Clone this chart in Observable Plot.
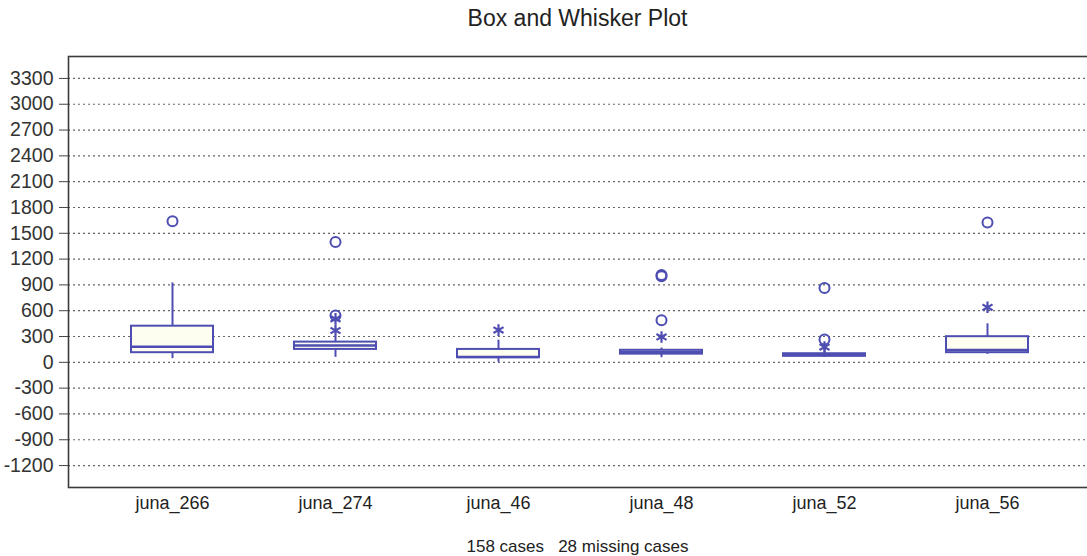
<!DOCTYPE html>
<html>
<head>
<meta charset="utf-8">
<script src="https://cdn.jsdelivr.net/npm/d3@7"></script>
<script src="https://cdn.jsdelivr.net/npm/@observablehq/plot@0.6"></script>
<style>
  html, body { margin: 0; padding: 0; background: #fff; }
  #title { height: 40px; padding-left: 68px; box-sizing: border-box; text-align: center;
    font-family: "Liberation Sans", Arial, sans-serif; font-size: 23px; color: #222; line-height: 36px; }
  #caption { height: 36px; padding-left: 68px; box-sizing: border-box; text-align: center;
    font-family: "Liberation Sans", Arial, sans-serif; font-size: 17px; color: #222; line-height: 54px; }
  svg { display: block; }
</style>
</head>
<body>
<div id="title">Box and Whisker Plot</div>
<div id="chart"></div>
<div id="caption">158 cases&nbsp;&nbsp; 28 missing cases</div>
<script>
const categories = ["juna_266", "juna_274", "juna_46", "juna_48", "juna_52", "juna_56"];
const whiskerLow  = [43, 58, 0, 54, 58, 93];
const q1          = [112, 150, 54, 95, 70, 112];
const median      = [182, 197, 62, 120, 85, 143];
const q3          = [420, 235, 150, 140, 100, 298];
const whiskerHigh = [923, 300, 258, 165, 150, 448];

const outlierCategory = ["juna_266", "juna_274", "juna_274", "juna_274", "juna_274", "juna_46",
  "juna_48", "juna_48", "juna_48", "juna_48", "juna_52", "juna_52", "juna_52", "juna_56", "juna_56"];
const outlierValue = [1640, 370, 505, 545, 1400, 375,
  295, 490, 1000, 1015, 178, 265, 865, 640, 1625];
const outlierKind = ["circle", "star", "star", "circle", "circle", "star",
  "star", "circle", "circle", "circle", "star", "circle", "circle", "star", "circle"];

const yTicks = d3.range(-1200, 3301, 300);

const boxes = categories.map((c, i) => ({
  cat: c, lo: whiskerLow[i], q1: q1[i], med: median[i], q3: q3[i], hi: whiskerHigh[i]
}));
const outliers = outlierCategory.map((c, i) => ({cat: c, v: outlierValue[i], kind: outlierKind[i]}));

const blue = "#4e4eb2";

const chart = Plot.plot({
  width: 1087,
  height: 480,
  marginLeft: 68,
  marginRight: -3,
  marginTop: 16,
  marginBottom: 33,
  style: {fontFamily: "Liberation Sans, Arial, sans-serif", fontSize: "19.5px", color: "#333", background: "#fff"},
  x: {domain: categories, range: [89.4, 1068.6], paddingInner: 0.5, paddingOuter: 0.25},
  y: {domain: [-1455, 3555]},
  marks: [
    Plot.ruleY(yTicks, {stroke: "#666", strokeDasharray: "2,3", strokeWidth: 1.2}),
    Plot.ruleX(boxes, {x: "cat", y1: "lo", y2: "q1", stroke: blue, strokeWidth: 2}),
    Plot.ruleX(boxes, {x: "cat", y1: "q3", y2: "hi", stroke: blue, strokeWidth: 2}),
    Plot.barY(boxes, {x: "cat", y1: "q1", y2: "q3", fill: "#fdfdf0", stroke: blue, strokeWidth: 2}),
    Plot.tickY(boxes, {x: "cat", y: "med", stroke: blue, strokeWidth: 2.5}),
    Plot.dot(outliers.filter(d => d.kind === "circle"), {x: "cat", y: "v", symbol: "circle", r: 5, stroke: blue, strokeWidth: 2, fill: "none"}),
    Plot.dot(outliers.filter(d => d.kind === "star"), {x: "cat", y: "v", symbol: "asterisk", r: 5.5, stroke: blue, strokeWidth: 2.2}),
    Plot.frame({stroke: "#3a3a3a", strokeWidth: 1.6}),
    Plot.axisY({ticks: yTicks, tickSize: 9, tickPadding: 6, tickFormat: d => String(d), stroke: "#444", fill: "#333", label: null}),
    Plot.axisX({tickSize: 0, tickPadding: 9, label: null, fontSize: 18, fill: "#222",
      fontFamily: "Liberation Sans Narrow, Arial Narrow, sans-serif"})
  ]
});
document.getElementById("chart").appendChild(chart);
</script>
</body>
</html>
